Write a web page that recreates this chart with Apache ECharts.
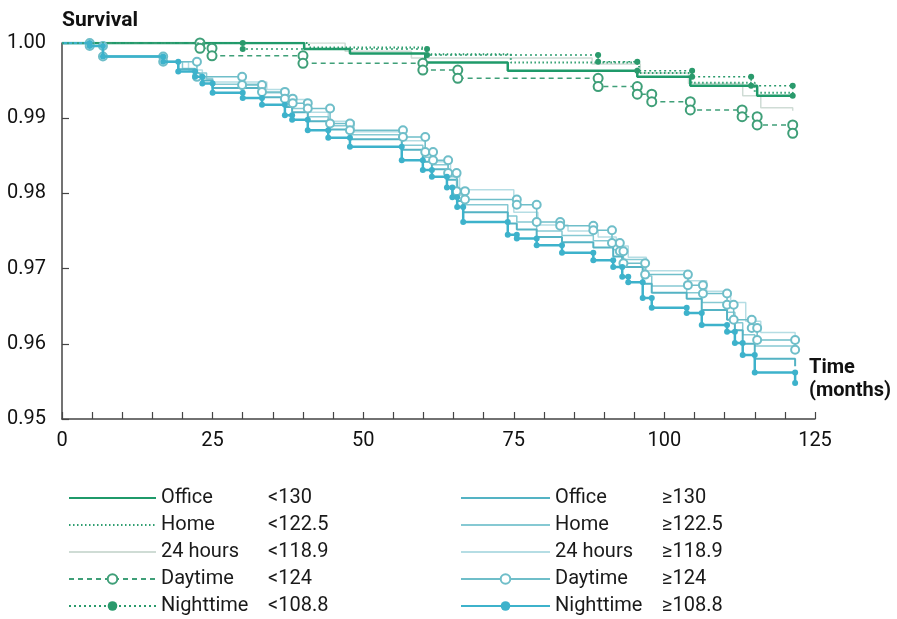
<!DOCTYPE html>
<html>
<head>
<meta charset="utf-8">
<script src="https://cdn.jsdelivr.net/npm/echarts@6/dist/echarts.min.js"></script>
<style>
  html, body { margin: 0; padding: 0; background: #fff; }
  #chart { width: 897px; height: 619px; }
</style>
</head>
<body>
<div id="chart"></div>
<script>
// step drops of each curve: [month, survival after the drop]
const greenOffice = [[40.2, 0.9992], [47.8, 0.9986], [60.3, 0.9974], [74.0, 0.9963], [95.5, 0.9955], [104.3, 0.9943], [115.4, 0.9930], [121.3, 0.9928]];
const greenHome = [[41.0, 0.9994], [60.5, 0.9985], [74.5, 0.9974], [95.8, 0.9960], [104.5, 0.9947], [115.0, 0.9934], [121.3, 0.9932]];
const green24h = [[47.0, 0.9989], [58.0, 0.9980], [88.0, 0.9972], [96.0, 0.9960], [104.0, 0.9946], [113.0, 0.9930], [116.0, 0.9914], [121.3, 0.9910]];
const greenDay = [[22.9, 0.9993], [24.9, 0.9983], [40.0, 0.9973], [59.9, 0.9964], [65.7, 0.9953], [89.0, 0.9942], [95.5, 0.9932], [97.9, 0.9922], [104.3, 0.9911], [112.9, 0.9902], [115.4, 0.9891], [121.3, 0.9880]];
const greenNight = [[30.0, 0.9992], [60.6, 0.9984], [89.0, 0.9975], [95.5, 0.9963], [104.6, 0.9955], [114.4, 0.9943], [121.3, 0.9930]];

const blueOffice = [[4.6, 0.9996], [6.8, 0.9982], [16.8, 0.9975], [19.3, 0.9965], [22.1, 0.9958], [23.3, 0.9950], [25.0, 0.9940], [33.2, 0.9928], [37.0, 0.9915], [38.2, 0.9908], [40.8, 0.9896], [44.2, 0.9885], [47.8, 0.9872], [56.4, 0.9858], [59.9, 0.9842], [61.4, 0.9832], [63.9, 0.9818], [65.6, 0.9790], [66.6, 0.9775], [74.0, 0.9760], [75.5, 0.9752], [78.8, 0.9742], [83.0, 0.9735], [88.2, 0.9728], [91.5, 0.9716], [93.0, 0.9702], [96.4, 0.9680], [97.9, 0.9668], [103.7, 0.9660], [106.2, 0.9645], [110.4, 0.9632], [111.7, 0.9618], [113.0, 0.9600], [115.0, 0.9580], [121.7, 0.9570]];
const blueHome = [[4.6, 0.9996], [6.8, 0.9982], [16.8, 0.9975], [20.0, 0.9966], [22.1, 0.9960], [24.0, 0.9952], [25.0, 0.9945], [33.2, 0.9934], [37.0, 0.9920], [38.2, 0.9913], [40.8, 0.9902], [44.2, 0.9890], [47.8, 0.9878], [56.4, 0.9864], [59.9, 0.9848], [61.4, 0.9838], [64.1, 0.9822], [65.6, 0.9798], [66.6, 0.9785], [74.0, 0.9770], [75.5, 0.9762], [78.8, 0.9750], [83.0, 0.9744], [88.2, 0.9737], [91.5, 0.9725], [93.0, 0.9712], [96.4, 0.9690], [97.9, 0.9677], [103.7, 0.9668], [106.2, 0.9655], [110.4, 0.9642], [111.7, 0.9628], [113.0, 0.9612], [115.0, 0.9597], [121.7, 0.9588]];
const blue24h = [[4.6, 0.9996], [6.8, 0.9982], [16.8, 0.9975], [21.0, 0.9964], [23.3, 0.9953], [25.0, 0.9948], [34.0, 0.9938], [37.5, 0.9925], [40.8, 0.9908], [44.2, 0.9896], [48.5, 0.9882], [57.0, 0.9870], [60.3, 0.9852], [62.0, 0.9842], [64.5, 0.9826], [66.0, 0.9805], [75.0, 0.9775], [79.0, 0.9758], [84.0, 0.9750], [89.0, 0.9742], [92.0, 0.9730], [94.0, 0.9715], [97.0, 0.9697], [104.0, 0.9684], [107.0, 0.9670], [111.0, 0.9655], [113.5, 0.9630], [116.0, 0.9615], [121.7, 0.9600]];
const blueDay = [[4.6, 0.9996], [6.8, 0.9982], [16.8, 0.9975], [22.4, 0.9955], [29.9, 0.9944], [33.2, 0.9935], [37.0, 0.9926], [38.3, 0.9920], [40.8, 0.9913], [44.5, 0.9893], [47.8, 0.9884], [56.6, 0.9875], [60.3, 0.9855], [61.6, 0.9844], [64.1, 0.9827], [65.5, 0.9803], [66.9, 0.9792], [75.5, 0.9785], [78.8, 0.9762], [82.7, 0.9757], [88.2, 0.9751], [91.3, 0.9734], [92.6, 0.9723], [93.2, 0.9707], [96.8, 0.9692], [103.9, 0.9678], [106.4, 0.9667], [110.4, 0.9652], [111.5, 0.9632], [114.5, 0.9621], [115.4, 0.9605], [121.7, 0.9592]];
const blueNight = [[4.6, 0.9996], [6.8, 0.9982], [16.8, 0.9975], [19.3, 0.9962], [22.1, 0.9955], [23.3, 0.9946], [25.0, 0.9934], [30.0, 0.9927], [33.2, 0.9918], [37.0, 0.9904], [38.2, 0.9898], [40.8, 0.9884], [44.2, 0.9874], [47.8, 0.9862], [56.4, 0.9844], [59.9, 0.9831], [61.4, 0.9822], [63.9, 0.9808], [64.8, 0.9795], [65.6, 0.9782], [66.6, 0.9762], [74.0, 0.9745], [75.5, 0.9740], [78.8, 0.9731], [83.0, 0.9721], [88.2, 0.9711], [91.5, 0.9702], [93.0, 0.9689], [94.0, 0.9682], [96.4, 0.9661], [97.9, 0.9648], [103.7, 0.9641], [106.2, 0.9625], [110.4, 0.9616], [111.7, 0.9601], [113.0, 0.9585], [115.0, 0.9562], [121.7, 0.9548]];

const measures = ['Office', 'Home', '24 hours', 'Daytime', 'Nighttime'];
const lowCuts = ['<130', '<122.5', '<118.9', '<124', '<108.8'];
const highCuts = ['≥130', '≥122.5', '≥118.9', '≥124', '≥108.8'];
const markerMeasures = ['Daytime', 'Nighttime'];

const FONT = "'Liberation Sans Narrow', Roboto, sans-serif";

// turn drops into a staircase: horizontal to the drop time, then straight down
function stairs(drops) {
    const pts = [{ value: [0, 1], symbol: 'none' }];
    let prev = 1;
    drops.forEach(([t, s]) => {
        pts.push({ value: [t, prev] });
        pts.push({ value: [t, s] });
        prev = s;
    });
    return pts;
}

function curve(name, drops, color, width, dash, marker, size) {
    const s = {
        name: name,
        type: 'line',
        data: stairs(drops),
        lineStyle: { color: color, width: width, type: dash },
        itemStyle: { color: color },
        symbol: 'none',
        emphasis: { disabled: true },
        z: 2
    };
    if (marker === 'open') {
        s.symbol = 'emptyCircle';
        s.symbolSize = size || 8;
        s.itemStyle = { color: color, borderColor: color, borderWidth: 2 };
        s.z = 3;
    } else if (marker === 'filled') {
        s.symbol = 'circle';
        s.symbolSize = size || 6;
        s.z = 4;
    }
    return s;
}

const names = (cuts) => measures.map((m, i) => m + ' ' + cuts[i]);
const lowNames = names(lowCuts);
const highNames = names(highCuts);

const series = [
    curve(highNames[2], blue24h, '#b5dde4', 1.5, 'solid'),
    curve(highNames[1], blueHome, '#86c9d3', 1.5, 'solid'),
    curve(highNames[0], blueOffice, '#54b3c4', 2, 'solid'),
    curve(highNames[3], blueDay, '#6fbec9', 1.5, 'solid', 'open', 8),
    curve(highNames[4], blueNight, '#3db2cb', 2.5, 'solid', 'filled', 6),
    curve(lowNames[2], green24h, '#cfdcd5', 1.5, 'solid'),
    curve(lowNames[3], greenDay, '#3f9f78', 1.5, [5, 4], 'open', 9),
    curve(lowNames[4], greenNight, '#2a9a6c', 1.5, [2, 3], 'filled', 6),
    curve(lowNames[1], greenHome, '#2f9e70', 2, [1.5, 2.5]),
    curve(lowNames[0], greenOffice, '#1f9a6a', 2.5, 'solid')
];

function legendFor(list, left, iconWidth) {
    return {
        // plain line icons get their marker hidden
        data: list.map((n, i) => markerMeasures.includes(measures[i])
            ? { name: n }
            : { name: n, itemStyle: { opacity: 0 } }),
        orient: 'vertical',
        left: left,
        top: 488,
        padding: 0,
        itemWidth: iconWidth,
        itemHeight: 12,
        itemGap: 7,
        selectedMode: false,
        formatter: (name) => {
            const i = list.indexOf(name);
            const cut = name.slice(measures[i].length + 1);
            return '{n|' + measures[i] + '}{v|' + cut + '}';
        },
        textStyle: {
            fontFamily: FONT,
            color: '#1a1a1a',
            rich: {
                n: { fontFamily: FONT, fontSize: 20, width: 107, lineHeight: 20 },
                v: { fontFamily: FONT, fontSize: 20, lineHeight: 20 }
            }
        }
    };
}

const chart = echarts.init(document.getElementById('chart'));
chart.setOption({
    animation: false,
    backgroundColor: '#fff',
    grid: { left: 62, right: 82, top: 43, bottom: 200, outerBoundsMode: 'none', containLabel: false },
    legend: [legendFor(lowNames, 68, 87), legendFor(highNames, 460, 89)],
    xAxis: {
        type: 'value',
        min: 0,
        max: 125,
        interval: 5,
        name: 'Time\n(months)',
        nameLocation: 'end',
        nameGap: -6,
        nameTextStyle: {
            fontFamily: FONT, fontSize: 20, color: '#111', fontWeight: 'bold',
            align: 'left', verticalAlign: 'bottom', lineHeight: 23, padding: [0, 0, 17, 0]
        },
        axisLine: { lineStyle: { color: '#444', width: 1.5 } },
        axisTick: { inside: true, length: 7, lineStyle: { color: '#444', width: 1.2 } },
        splitLine: { show: false },
        axisLabel: {
            margin: 12,
            fontFamily: FONT, fontSize: 20, color: '#111',
            formatter: (v) => (v % 25 === 0 ? String(v) : '')
        }
    },
    yAxis: {
        type: 'value',
        min: 0.95,
        max: 1.0,
        interval: 0.01,
        name: 'Survival',
        nameLocation: 'end',
        nameGap: 12,
        nameTextStyle: {
            fontFamily: FONT, fontSize: 21, color: '#111', fontWeight: 'bold', align: 'left'
        },
        axisLine: { show: true, lineStyle: { color: '#444', width: 1.5 } },
        axisTick: { show: true, inside: true, length: 7, lineStyle: { color: '#444', width: 1.2 } },
        splitLine: { show: false },
        axisLabel: {
            margin: 16,
            fontFamily: FONT, fontSize: 20, color: '#111',
            formatter: (v) => v.toFixed(2)
        }
    },
    series: series
});
</script>
</body>
</html>
